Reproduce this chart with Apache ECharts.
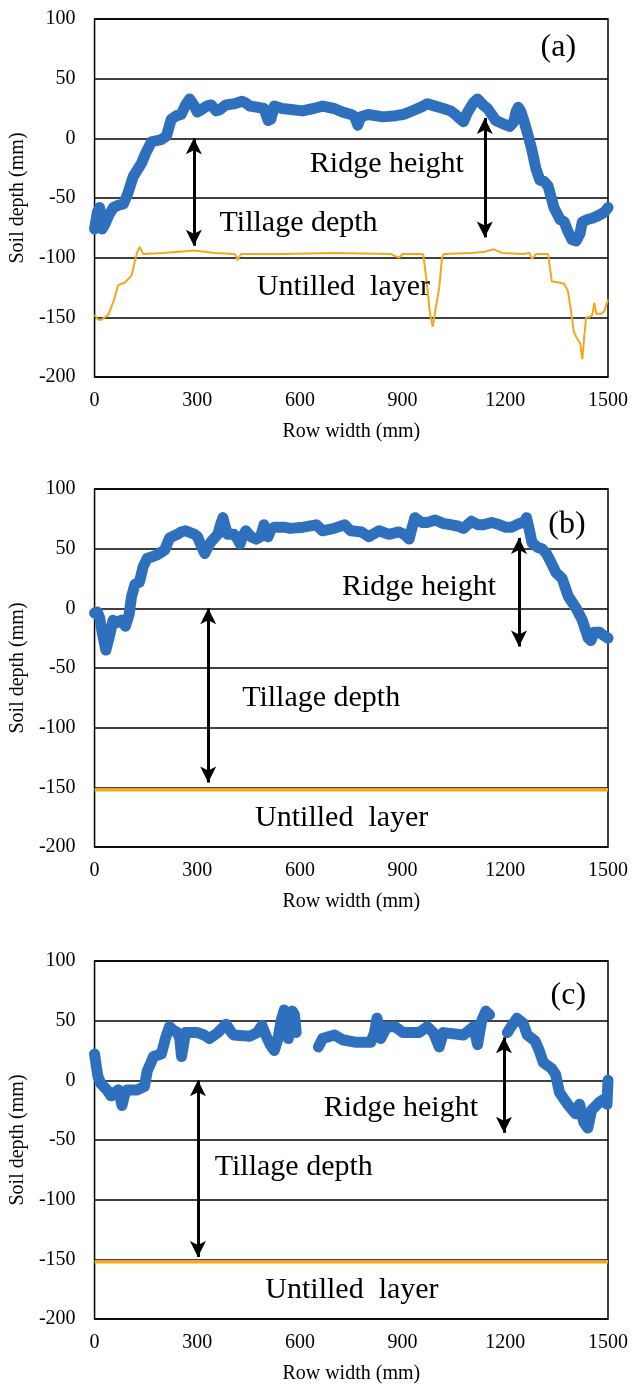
<!DOCTYPE html>
<html>
<head>
    <meta charset="utf-8">
    <title>Soil profiles</title>
    <script src="https://cdn.jsdelivr.net/npm/echarts@6/dist/echarts.min.js"></script>
    <style>
        html, body { margin: 0; padding: 0; background: #fff; }
        #chart { width: 633px; height: 1385px; }
    </style>
</head>
<body>
<div id="chart"></div>
<script>
// soil surface (blue) and untilled layer boundary (orange), [row width mm, depth mm]
var ridgeA = [[0,-76],[8,-62],[15,-58],[22,-76],[30,-72],[42,-64],[55,-58],[70,-56],[84,-55],[95,-48],[113,-32],[137,-21],[150,-12],[166,-3],[180,-2],[195,-1],[210,2],[218,10],[224,16],[240,19],[253,20],[266,28],[278,33],[292,27],[300,22],[312,24],[328,27],[341,28],[355,23],[365,24],[384,28],[409,29],[431,31],[440,30],[454,27],[477,26],[495,25],[507,15],[515,16],[525,27],[548,25],[580,24],[607,23],[640,25],[666,27],[700,25],[725,22],[750,20],[760,18],[769,11],[778,18],[800,20],[842,18],[880,19],[901,20],[920,22],[936,24],[960,27],[972,29],[995,27],[1019,25],[1040,23],[1054,20],[1065,17],[1078,14],[1090,22],[1107,30],[1119,33],[1135,28],[1148,25],[1160,20],[1172,15],[1195,12],[1213,10],[1225,14],[1231,22],[1238,26],[1246,22],[1254,15],[1266,3],[1278,-10],[1289,-25],[1301,-35],[1313,-36],[1325,-40],[1342,-58],[1360,-68],[1372,-70],[1383,-78],[1395,-85],[1407,-86],[1418,-80],[1425,-70],[1440,-68],[1454,-67],[1470,-65],[1489,-62],[1500,-58]];
var untilledA = [[0,-148],[10,-152],[20,-152],[40,-148],[55,-137],[69,-123],[88,-121],[108,-115],[117,-104],[125,-95],[132,-91],[142,-97],[200,-96],[292,-94],[350,-96],[410,-97],[418,-102],[428,-97],[548,-97],[700,-96],[866,-97],[889,-100],[900,-97],[960,-97],[966,-110],[974,-130],[980,-147],[988,-158],[995,-145],[1007,-125],[1015,-100],[1020,-97],[1100,-96],[1140,-95],[1166,-93],[1190,-96],[1254,-97],[1270,-96],[1278,-101],[1290,-97],[1325,-97],[1336,-120],[1360,-121],[1372,-122],[1383,-128],[1392,-145],[1400,-162],[1410,-168],[1419,-172],[1425,-185],[1430,-168],[1436,-150],[1445,-150],[1454,-148],[1460,-138],[1466,-147],[1480,-147],[1489,-145],[1500,-135]];

var ridgeB = [[0,-4],[8,-3],[15,-8],[22,-20],[33,-35],[42,-25],[54,-10],[65,-12],[78,-10],[90,-15],[101,-5],[108,10],[118,20],[131,22],[142,35],[154,42],[166,43],[184,45],[205,49],[219,59],[242,62],[253,64],[266,65],[292,62],[301,60],[312,52],[322,46],[332,52],[341,56],[360,62],[368,70],[375,76],[380,70],[389,62],[407,62],[418,58],[425,54],[432,60],[442,65],[457,60],[472,58],[485,60],[495,70],[507,60],[515,66],[525,68],[554,68],[572,67],[610,68],[648,70],[666,65],[700,67],[731,70],[748,65],[780,64],[801,60],[831,65],[860,62],[889,64],[905,62],[919,58],[928,68],[936,76],[955,72],[972,72],[995,74],[1020,71],[1042,70],[1060,69],[1078,67],[1101,73],[1120,70],[1136,70],[1160,72],[1183,70],[1200,68],[1219,68],[1240,71],[1254,72],[1262,76],[1270,66],[1278,55],[1295,51],[1307,50],[1320,46],[1331,40],[1348,30],[1366,25],[1384,10],[1407,0],[1425,-10],[1442,-25],[1450,-27],[1460,-20],[1475,-20],[1484,-22],[1500,-25]];
var untilledB = [[0,-152],[1500,-152]];

var ridgeC = [[0,22],[5,12],[10,3],[19,-3],[36,-8],[48,-13],[60,-10],[70,-8],[80,-21],[88,-12],[95,-8],[125,-8],[146,-5],[154,8],[165,15],[172,20],[195,22],[207,35],[219,45],[230,42],[242,40],[249,35],[254,20],[260,30],[266,40],[301,40],[320,38],[336,35],[360,40],[384,47],[400,40],[407,38],[454,37],[475,40],[489,46],[500,38],[513,30],[525,25],[536,35],[545,50],[554,59],[560,45],[566,35],[572,50],[578,58],[584,55],[589,40],[620,null],[654,28],[666,35],[701,38],[725,34],[760,32],[807,32],[818,40],[825,52],[836,35],[854,45],[878,45],[901,40],[948,40],[972,45],[990,40],[1007,28],[1019,40],[1078,38],[1107,45],[1119,30],[1131,50],[1143,58],[1154,55],[1180,null],[1206,40],[1217,45],[1234,52],[1252,48],[1264,38],[1287,33],[1299,25],[1311,15],[1335,10],[1347,5],[1358,-10],[1382,-20],[1405,-28],[1417,-20],[1429,-35],[1441,-40],[1452,-25],[1476,-18],[1493,-15],[1497,-20],[1500,0]];
var untilledC = [[0,-152],[1500,-152]];

// double arrows: [x, yTop, yBottom]
var arrowsA = [[290, 0, -90], [1140, 17, -83]];
var arrowsB = [[332, 0, -146], [1240, 59, -32]];
var arrowsC = [[302, 0, -148], [1196, 36, -44]];

// annotation texts
var noteNames = ['Ridge height', 'Tillage depth', 'Untilled  layer'];
var notesA = [[854, -22], [596, -71], [727, -125]];
var notesB = [[948, 18], [662, -75], [722, -176]];
var notesC = [[895, -23], [582, -73], [752, -176]];
var panelNames = ['(a)', '(b)', '(c)'];
var panelPos = [[1355, 76], [1380, 70], [1384, 71]];

var xTicks = { min: 0, max: 1500, interval: 300 };
var yTicks = { min: -200, max: 100, interval: 50 };

var serif = '"Liberation Serif", "Times New Roman", serif';
var blue = '#2E70BE';
var orange = '#F2A71E';
var gridTops = [19, 489, 961];

var ridges = [ridgeA, ridgeB, ridgeC];
var untilled = [untilledA, untilledB, untilledC];
var arrows = [arrowsA, arrowsB, arrowsC];
var notes = [notesA, notesB, notesC];

var grids = [], xAxes = [], yAxes = [], series = [];
for (var i = 0; i < 3; i++) {
    grids.push({
        left: 93, width: 515, top: gridTops[i], height: 358,
        show: true, borderColor: '#000', borderWidth: 1.5, backgroundColor: 'transparent'
    });
    xAxes.push({
        gridIndex: i, type: 'value', min: xTicks.min, max: xTicks.max, interval: xTicks.interval,
        axisLine: { show: false }, axisTick: { show: false }, splitLine: { show: false },
        axisLabel: { color: '#000', fontFamily: serif, fontSize: 20, margin: 14,
            formatter: function (v) { return String(v); } },
        name: 'Row width (mm)', nameLocation: 'middle', nameGap: 45,
        nameTextStyle: { color: '#000', fontFamily: serif, fontSize: 20 }
    });
    yAxes.push({
        gridIndex: i, type: 'value', min: yTicks.min, max: yTicks.max, interval: yTicks.interval,
        axisLine: { show: false }, axisTick: { show: false },
        splitLine: { show: true, lineStyle: { color: '#000', width: 1.5 } },
        axisLabel: { color: '#000', fontFamily: serif, fontSize: 20, margin: 19 },
        name: 'Soil depth (mm)', nameLocation: 'middle', nameGap: 62,
        nameTextStyle: { color: '#000', fontFamily: serif, fontSize: 20 }
    });

    series.push({
        type: 'line', xAxisIndex: i, yAxisIndex: i, data: untilled[i],
        showSymbol: false, connectNulls: false, silent: true,
        lineStyle: { color: orange, width: i === 0 ? 2 : 3.5 }
    });
    series.push({
        type: 'line', xAxisIndex: i, yAxisIndex: i, data: ridges[i],
        showSymbol: false, connectNulls: false, silent: true,
        lineStyle: { color: blue, width: 11, cap: 'round', join: 'round' },
        markLine: {
            silent: true, animation: false,
            symbol: ['arrow', 'arrow'], symbolSize: [12, 16],
            lineStyle: { color: '#000', width: 3, type: 'solid' },
            label: { show: false },
            data: arrows[i].map(function (a) {
                return [{ coord: [a[0], a[1]] }, { coord: [a[0], a[2]] }];
            })
        }
    });
    var labels = notes[i].map(function (p, k) {
        return { value: p, name: noteNames[k], label: { fontSize: 30 } };
    });
    labels.push({ value: panelPos[i], name: panelNames[i], label: { fontSize: 32 } });
    series.push({
        type: 'scatter', xAxisIndex: i, yAxisIndex: i, data: labels,
        symbolSize: 0, silent: true, z: 5,
        label: {
            show: true, position: 'inside', formatter: '{b}',
            color: '#000', fontFamily: serif, textBorderWidth: 0, opacity: 1
        }
    });
}

var myChart = echarts.init(document.getElementById('chart'));
myChart.setOption({
    animation: false,
    backgroundColor: '#fff',
    grid: grids,
    xAxis: xAxes,
    yAxis: yAxes,
    series: series
});
</script>
</body>
</html>
